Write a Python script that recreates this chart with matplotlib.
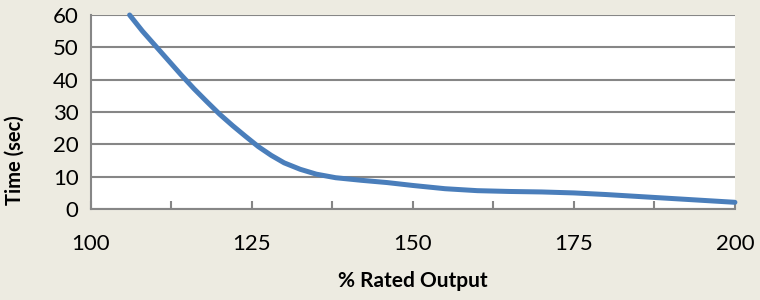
import matplotlib.pyplot as plt

rated_output = [106, 108, 110, 112, 114, 116, 118, 120, 122, 124, 126, 128,
                130, 132.5, 135, 138, 142, 146, 150, 155, 160, 165, 170, 175,
                180, 185, 190, 195, 200]
time_sec = [60, 55, 50.5, 46, 41.5, 37.2, 33.2, 29.3, 25.8, 22.5, 19.3, 16.6,
            14.3, 12.3, 10.8, 9.7, 8.9, 8.2, 7.3, 6.3, 5.7, 5.45, 5.3, 5.0,
            4.5, 3.9, 3.3, 2.7, 2.1]

x_ticks = [100, 125, 150, 175, 200]
y_ticks = [0, 10, 20, 30, 40, 50, 60]

bg = '#EDEBE1'
grid_col = '#868686'

plt.rcParams['font.family'] = ['Lato', 'DejaVu Sans']

fig = plt.figure(figsize=(7.6, 3.0), dpi=100, facecolor=bg)
ax = fig.add_axes([0.1197, 0.303, 0.8473, 0.647])
ax.set_facecolor('white')

ax.plot(rated_output, time_sec, color='#4A7EBB', linewidth=3.6,
        solid_capstyle='round', solid_joinstyle='round', zorder=3, clip_on=False)

ax.set_xlim(100, 200)
ax.set_ylim(0, 60)
ax.set_xticks(x_ticks)
ax.set_xticks([112.5, 137.5, 162.5, 187.5], minor=True)
ax.set_yticks(y_ticks)
ax.yaxis.grid(True, color=grid_col, linewidth=1.5)
ax.set_axisbelow(True)

for side in ['top', 'right']:
    ax.spines[side].set_visible(False)
for side in ['left', 'bottom']:
    ax.spines[side].set_color(grid_col)
    ax.spines[side].set_linewidth(1.5)

ax.tick_params(axis='x', which='both', direction='in', length=6, width=1.5,
               color=grid_col, labelsize=16, pad=18)
ax.tick_params(axis='y', length=0, labelsize=16, pad=9)

ax.set_xlabel('% Rated Output', fontsize=15, fontweight='bold', labelpad=12)
ax.set_ylabel('Time (sec)', fontsize=14.5, fontweight='bold', va='center')
# label sits low beside the axis, as in the original
ax.yaxis.set_label_coords(-0.118, 0.25)

fig.savefig('out.png', dpi=100, facecolor=bg)
